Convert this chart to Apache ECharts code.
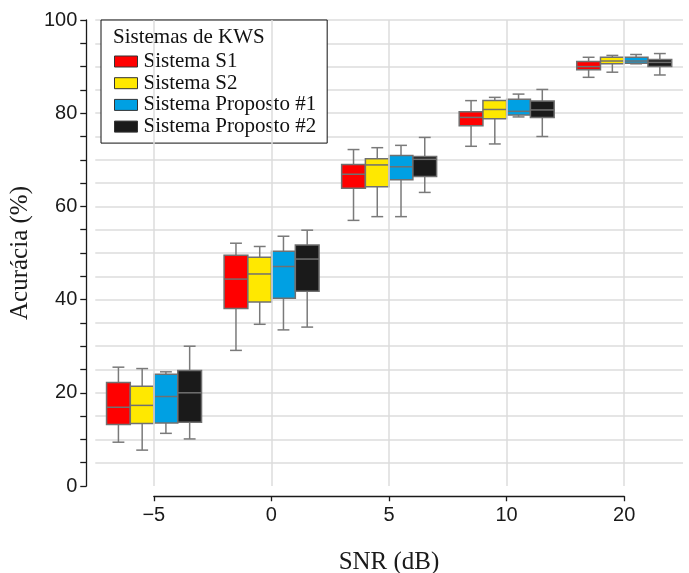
<!DOCTYPE html>
<html>
<head>
<meta charset="utf-8">
<title>Acurácia x SNR</title>
<script src="https://cdn.jsdelivr.net/npm/echarts@6.0.0/dist/echarts.min.js"></script>
<style>
    html, body {margin: 0; padding: 0; background: #fff;}
    #main {width: 689px; height: 573px;}
</style>
</head>
<body>
<div id="main"></div>
<script>
    // categorias do eixo x
    var snr = ['\u22125', '0', '5', '10', '20'];

    // [min, q1, mediana, q3, max] para cada SNR
    var sistemaS1 = [
        [9.4, 13.2, 16.9, 22.2, 25.5],
        [29.1, 38.1, 44.4, 49.5, 52.1],
        [57.0, 63.9, 66.9, 69.0, 72.2],
        [72.9, 77.3, 79.1, 80.3, 82.7],
        [87.7, 89.3, 90.0, 91.1, 92.0]
    ];
    var sistemaS2 = [
        [7.7, 13.4, 17.3, 21.4, 25.2],
        [34.7, 39.5, 45.5, 49.1, 51.4],
        [57.8, 64.2, 68.9, 70.2, 72.6],
        [73.4, 78.8, 80.8, 82.7, 83.4],
        [88.8, 90.6, 91.2, 92.0, 92.4]
    ];
    var proposto1 = [
        [11.3, 13.5, 19.2, 24.0, 24.5],
        [33.5, 40.3, 47.1, 50.4, 53.6],
        [57.8, 65.7, 68.5, 70.9, 73.1],
        [79.2, 79.6, 80.4, 83.0, 84.1],
        [90.6, 90.7, 91.2, 92.0, 92.6]
    ];
    var proposto2 = [
        [10.1, 13.7, 20.0, 24.8, 30.0],
        [34.1, 41.8, 48.7, 51.7, 54.9],
        [63.0, 66.4, 70.1, 70.7, 74.8],
        [75.0, 79.1, 80.7, 82.6, 85.1],
        [88.2, 90.0, 90.9, 91.5, 92.8]
    ];

    var seriesNames = ['Sistema S1', 'Sistema S2', 'Sistema Proposto #1', 'Sistema Proposto #2'];
    var seriesData = [sistemaS1, sistemaS2, proposto1, proposto2];
    var seriesColors = ['#ff0000', '#ffe800', '#00a0e3', '#1a1a1a'];

    var chart = echarts.init(document.getElementById('main'));
    var W = chart.getWidth();

    var gridMain = {left: 95, right: 6, top: 20, bottom: 87};
    var band = (W - gridMain.left - gridMain.right) / snr.length;

    var serif = '"Liberation Serif", "Times New Roman", serif';
    var sans = '"Liberation Sans", Arial, sans-serif';

    // um boxplot por sistema, caixas lado a lado dentro da categoria
    function boxSeries(k) {
        return {
            name: seriesNames[k],
            type: 'custom',
            z: 3,
            itemStyle: {color: seriesColors[k]},
            encode: {x: 0, y: [1, 2, 3, 4, 5]},
            data: seriesData[k].map(function (v, i) { return [i].concat(v); }),
            renderItem: function (params, api) {
                var i = api.value(0);
                var bw = api.size([1, 0])[0] * 0.202;
                var cx = api.coord([i, 0])[0] + (k - 1.5) * bw;
                var yMin = api.coord([i, api.value(1)])[1];
                var yQ1 = api.coord([i, api.value(2)])[1];
                var yMed = api.coord([i, api.value(3)])[1];
                var yQ3 = api.coord([i, api.value(4)])[1];
                var yMax = api.coord([i, api.value(5)])[1];
                var cap = bw / 4;
                var ws = {stroke: '#7a7a7a', lineWidth: 1.5};
                return {
                    type: 'group',
                    children: [
                        {type: 'line', shape: {x1: cx, y1: yMax, x2: cx, y2: yQ3}, style: ws},
                        {type: 'line', shape: {x1: cx, y1: yMin, x2: cx, y2: yQ1}, style: ws},
                        {type: 'line', shape: {x1: cx - cap, y1: yMax, x2: cx + cap, y2: yMax}, style: ws},
                        {type: 'line', shape: {x1: cx - cap, y1: yMin, x2: cx + cap, y2: yMin}, style: ws},
                        {
                            type: 'rect',
                            shape: {x: cx - bw / 2, y: yQ3, width: bw, height: yQ1 - yQ3},
                            style: {fill: seriesColors[k], stroke: '#707070', lineWidth: 1.5}
                        },
                        {type: 'line', shape: {x1: cx - bw / 2, y1: yMed, x2: cx + bw / 2, y2: yMed}, style: {stroke: '#707070', lineWidth: 1.5}}
                    ]
                };
            }
        };
    }

    // cor das linhas de grade (a de 0 nao aparece)
    var gridColors = [];
    for (var g = 0; g <= 20; g++) {
        gridColors.push(g === 0 ? 'rgba(0,0,0,0)' : '#dcdcdc');
    }

    var series = [];
    for (var k = 0; k < 4; k++) {
        series.push(boxSeries(k));
    }
    // linhas verticais da grade no centro de cada categoria
    series.push({
        type: 'line',
        z: 1,
        silent: true,
        data: [],
        markLine: {
            silent: true,
            symbol: ['none', 'none'],
            label: {show: false},
            lineStyle: {color: '#dcdcdc', width: 1.5, type: 'solid'},
            data: snr.map(function (c) { return {xAxis: c}; })
        }
    });

    chart.setOption({
        animation: false,
        title: {
            text: 'Sistemas de KWS',
            left: 113,
            top: 27,
            padding: 0,
            textStyle: {fontFamily: serif, fontSize: 21, fontWeight: 'normal', color: '#111', lineHeight: 21}
        },
        legend: {
            data: seriesNames.map(function (n) { return {name: n}; }),
            orient: 'vertical',
            left: 101,
            top: 20,
            padding: [31, 11, 6, 13],
            backgroundColor: '#fff',
            borderColor: '#111',
            borderWidth: 1,
            icon: 'rect',
            itemWidth: 23,
            itemHeight: 11,
            itemGap: 0.7,
            itemStyle: {borderColor: '#333', borderWidth: 1},
            textStyle: {fontFamily: serif, fontSize: 21, color: '#111', lineHeight: 19, padding: [0, 0, 0, 1]},
            selectedMode: false
        },
        grid: [
            gridMain,
            {left: gridMain.left + band / 2, right: gridMain.right + band / 2, top: 496, height: 1}
        ],
        xAxis: [
            {
                type: 'category',
                gridIndex: 0,
                data: snr,
                show: false
            },
            {
                type: 'category',
                gridIndex: 1,
                data: snr,
                boundaryGap: false,
                position: 'bottom',
                axisLine: {lineStyle: {color: '#1a1a1a', width: 1.3}},
                axisTick: {length: 5, lineStyle: {color: '#1a1a1a', width: 1.3}},
                axisLabel: {fontFamily: sans, fontSize: 20, color: '#1a1a1a', margin: 9},
                splitLine: {show: false},
                name: 'SNR (dB)',
                nameLocation: 'middle',
                nameGap: 54,
                nameTextStyle: {fontFamily: serif, fontSize: 25, color: '#1a1a1a'}
            }
        ],
        yAxis: [
            {
                type: 'value',
                gridIndex: 0,
                min: 0,
                max: 100,
                interval: 5,
                offset: 9,
                axisLine: {show: true, lineStyle: {color: '#1a1a1a', width: 1.3}},
                axisTick: {show: true, length: 6, lineStyle: {color: '#1a1a1a', width: 1.3}},
                axisLabel: {
                    fontFamily: sans, fontSize: 20, color: '#1a1a1a', margin: 9,
                    formatter: function (v) { return v % 20 === 0 ? v : ''; }
                },
                splitLine: {show: true, lineStyle: {color: gridColors, width: 1.5}},
                name: 'Acurácia (%)',
                nameLocation: 'middle',
                nameGap: 46,
                nameTextStyle: {fontFamily: serif, fontSize: 25, color: '#1a1a1a'}
            },
            {
                type: 'value',
                gridIndex: 1,
                show: false
            }
        ],
        series: series
    });
</script>
</body>
</html>
